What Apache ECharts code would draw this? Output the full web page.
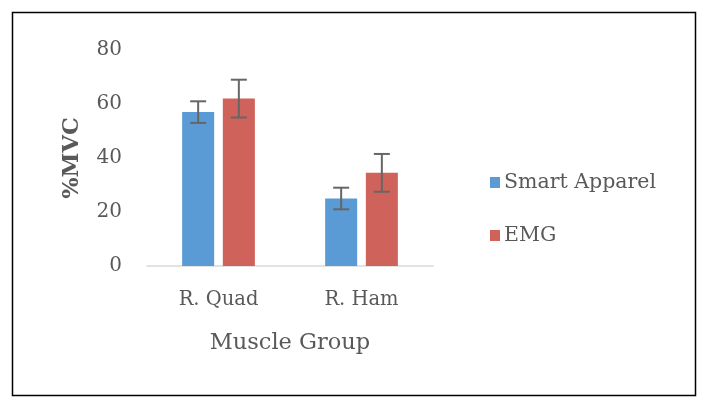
<!DOCTYPE html>
<html>
<head>
<meta charset="utf-8">
<script src="https://cdn.jsdelivr.net/npm/echarts@6/dist/echarts.min.js"></script>
<style>html,body{margin:0;padding:0;background:#fff}#c{width:709px;height:409px}</style>
</head>
<body>
<div id="c"></div>
<script>
const categories = ['R. Quad', 'R. Ham'];
const smartApparel = [57, 25];
const smartApparelErr = [4, 4];
const emg = [62, 34.5];
const emgErr = [7, 7];
const yTicks = [0, 20, 40, 60, 80];

const FONT = 'DejaVu Serif';
const chart = echarts.init(document.getElementById('c'));

function errSeries(vals, errs, idx) {
  return {
    type: 'custom',
    name: 'err' + idx,
    z: 10,
    silent: true,
    data: vals.map((v, i) => [i, v - errs[i], v + errs[i]]),
    renderItem: function (params, api) {
      const ci = api.value(0);
      const lo = api.coord([ci, api.value(1)]);
      const hi = api.coord([ci, api.value(2)]);
      const bw = api.size([1, 0])[0];
      const barW = bw * 0.224;
      const gap = barW * 0.27;
      const off = (idx === 0 ? -1 : 1) * (barW + gap) / 2;
      const x = lo[0] + off;
      const cap = 8;
      const style = { stroke: '#666666', lineWidth: 2 };
      return {
        type: 'group',
        children: [
          { type: 'line', shape: { x1: x, y1: lo[1], x2: x, y2: hi[1] }, style },
          { type: 'line', shape: { x1: x - cap, y1: lo[1], x2: x + cap, y2: lo[1] }, style },
          { type: 'line', shape: { x1: x - cap, y1: hi[1], x2: x + cap, y2: hi[1] }, style }
        ]
      };
    }
  };
}

chart.setOption({
  animation: false,
  textStyle: { fontFamily: FONT },
  graphic: [{
    type: 'rect', shape: { x: 12.5, y: 12.5, width: 683, height: 383 },
    style: { fill: 'none', stroke: '#000', lineWidth: 1.5 }
  }],
  grid: { left: 147, right: 276, top: 50, bottom: 143 },
  legend: {
    data: ['Smart Apparel', 'EMG'],
    orient: 'vertical',
    left: 485, top: 167,
    itemWidth: 10, itemHeight: 11, itemGap: 32,
    icon: 'rect',
    textStyle: { fontFamily: FONT, fontSize: 20.5, color: '#595959', padding: [0, 0, 0, -1] }
  },
  xAxis: {
    type: 'category',
    data: categories,
    name: 'Muscle Group',
    nameLocation: 'middle',
    nameGap: 66,
    nameTextStyle: { fontFamily: FONT, fontSize: 22.5, color: '#595959' },
    axisLine: { lineStyle: { color: '#d9d9d9', width: 1.5 } },
    axisTick: { show: false },
    axisLabel: { fontFamily: FONT, fontSize: 19.5, color: '#595959', margin: 24 }
  },
  yAxis: {
    type: 'value',
    min: 0, max: 80, interval: 20,
    name: '%MVC',
    nameLocation: 'middle',
    nameGap: 63,
    nameTextStyle: { fontFamily: FONT, fontSize: 22.5, fontWeight: 'bold', color: '#595959' },
    splitLine: { show: false },
    axisLine: { show: false },
    axisTick: { show: false },
    axisLabel: { fontFamily: FONT, fontSize: 20, color: '#595959', margin: 25,
      formatter: v => yTicks.includes(v) ? String(v) : '' }
  },
  series: [
    { name: 'Smart Apparel', type: 'bar', data: smartApparel, barWidth: '22.4%', barGap: '27%',
      itemStyle: { color: '#5B9BD5' } },
    { name: 'EMG', type: 'bar', data: emg, barWidth: '22.4%', barGap: '27%',
      itemStyle: { color: '#CF625A' } },
    errSeries(smartApparel, smartApparelErr, 0),
    errSeries(emg, emgErr, 1)
  ]
});
</script>
</body>
</html>
